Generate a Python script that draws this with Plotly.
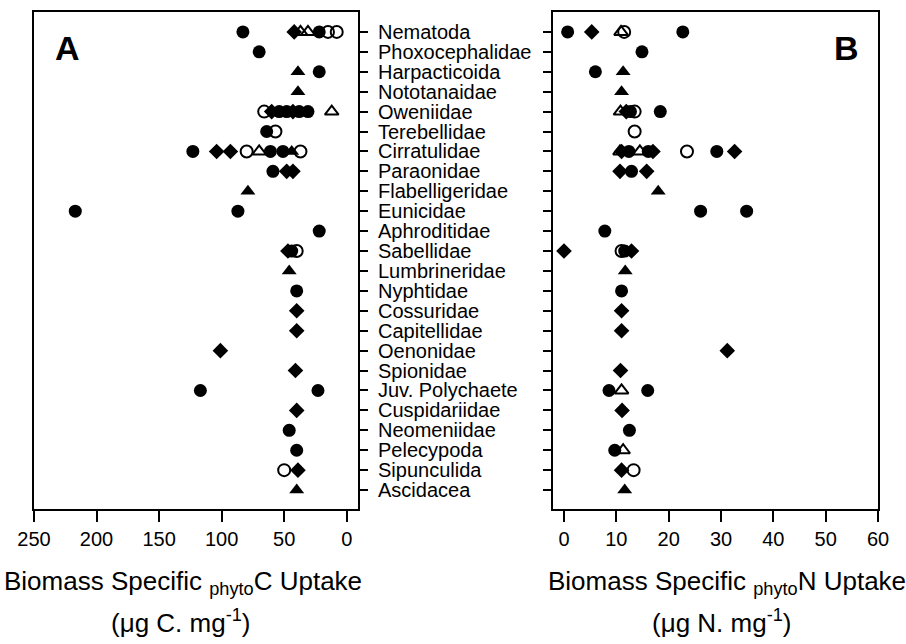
import plotly.graph_objects as go

W, H = 906, 644

taxa = ["Nematoda", "Phoxocephalidae", "Harpacticoida", "Nototanaidae", "Oweniidae",
        "Terebellidae", "Cirratulidae", "Paraonidae", "Flabelligeridae", "Eunicidae",
        "Aphroditidae", "Sabellidae", "Lumbrineridae", "Nyphtidae", "Cossuridae",
        "Capitellidae", "Oenonidae", "Spionidae", "Juv. Polychaete", "Cuspidariidae",
        "Neomeniidae", "Pelecypoda", "Sipunculida", "Ascidacea"]

c_ticks = [250, 200, 150, 100, 50, 0]
n_ticks = [0, 10, 20, 30, 40, 50, 60]

# ---- Panel A: phytoC uptake (ug C mg-1) ----
A_fc_taxa = ["Nematoda", "Nematoda", "Phoxocephalidae", "Harpacticoida", "Oweniidae", "Oweniidae",
             "Oweniidae", "Oweniidae", "Terebellidae", "Cirratulidae", "Cirratulidae", "Cirratulidae",
             "Paraonidae", "Eunicidae", "Eunicidae", "Aphroditidae", "Sabellidae", "Nyphtidae",
             "Juv. Polychaete", "Juv. Polychaete", "Neomeniidae", "Pelecypoda"]
A_fc_vals = [83, 22, 70, 22, 54, 48, 38, 31, 64, 123, 61, 51, 59, 217, 87, 22, 44, 40, 117, 23, 46, 40]

A_fd_taxa = ["Nematoda", "Oweniidae", "Oweniidae", "Cirratulidae", "Cirratulidae", "Paraonidae",
             "Paraonidae", "Sabellidae", "Cossuridae", "Capitellidae", "Oenonidae", "Spionidae",
             "Cuspidariidae", "Sipunculida"]
A_fd_vals = [42, 60, 43, 104, 93, 48, 43, 47, 40, 40, 101, 41, 40, 39]

A_ft_taxa = ["Harpacticoida", "Nototanaidae", "Cirratulidae", "Flabelligeridae", "Lumbrineridae", "Ascidacea"]
A_ft_vals = [39, 39, 44, 79, 46, 40]

A_oc_taxa = ["Nematoda", "Nematoda", "Oweniidae", "Terebellidae", "Cirratulidae", "Cirratulidae",
             "Sabellidae", "Sipunculida"]
A_oc_vals = [15, 8, 66, 57, 80, 37, 40, 50]

A_ot_taxa = ["Nematoda", "Nematoda", "Oweniidae", "Cirratulidae"]
A_ot_vals = [37, 31, 12, 70]

# ---- Panel B: phytoN uptake (ug N mg-1) ----
B_fc_taxa = ["Nematoda", "Nematoda", "Phoxocephalidae", "Harpacticoida", "Oweniidae", "Oweniidae",
             "Cirratulidae", "Cirratulidae", "Cirratulidae", "Paraonidae", "Eunicidae", "Eunicidae",
             "Aphroditidae", "Sabellidae", "Nyphtidae", "Juv. Polychaete", "Juv. Polychaete",
             "Neomeniidae", "Pelecypoda"]
B_fc_vals = [0.7, 22.7, 14.9, 6.0, 12.7, 18.4, 12.4, 16.1, 29.2, 12.9, 26.1, 34.9, 7.8, 11.6,
             11.0, 8.6, 16.0, 12.5, 9.7]

B_fd_taxa = ["Nematoda", "Oweniidae", "Cirratulidae", "Cirratulidae", "Cirratulidae", "Paraonidae",
             "Paraonidae", "Sabellidae", "Sabellidae", "Cossuridae", "Capitellidae", "Oenonidae",
             "Spionidae", "Cuspidariidae", "Sipunculida"]
B_fd_vals = [5.3, 11.9, 11.0, 17.0, 32.6, 10.7, 15.8, 0.0, 12.9, 11.0, 11.0, 31.2, 10.8, 11.1, 11.0]

B_ft_taxa = ["Harpacticoida", "Nototanaidae", "Flabelligeridae", "Lumbrineridae", "Ascidacea"]
B_ft_vals = [11.3, 11.0, 18.0, 11.7, 11.6]

B_oc_taxa = ["Nematoda", "Oweniidae", "Terebellidae", "Cirratulidae", "Sabellidae", "Sipunculida"]
B_oc_vals = [11.5, 13.5, 13.5, 23.5, 11.0, 13.3]

B_ot_taxa = ["Nematoda", "Oweniidae", "Cirratulidae", "Cirratulidae", "Juv. Polychaete", "Pelecypoda"]
B_ot_vals = [10.9, 10.8, 10.7, 14.5, 11.0, 11.3]

FONT = "Liberation Sans, Arial, sans-serif"

styles = [
    ("circle", 13, "black", 0),
    ("diamond", 12, "black", 0),
    ("triangle-up", 13, "black", 0),
    ("circle-open", 12, "black", 2),
    ("triangle-up-open", 12, "black", 2),
]

fig = go.Figure()

A_sets = [(A_fc_taxa, A_fc_vals), (A_fd_taxa, A_fd_vals), (A_ft_taxa, A_ft_vals),
          (A_oc_taxa, A_oc_vals), (A_ot_taxa, A_ot_vals)]
B_sets = [(B_fc_taxa, B_fc_vals), (B_fd_taxa, B_fd_vals), (B_ft_taxa, B_ft_vals),
          (B_oc_taxa, B_oc_vals), (B_ot_taxa, B_ot_vals)]

for (sym, size, col, lw), (t, v) in zip(styles, A_sets):
    fig.add_trace(go.Scatter(x=v, y=t, mode="markers", xaxis="x", yaxis="y",
                             marker=dict(symbol=sym, size=size, color=col,
                                         line=dict(width=lw, color=col)),
                             showlegend=False, hoverinfo="skip"))
for (sym, size, col, lw), (t, v) in zip(styles, B_sets):
    fig.add_trace(go.Scatter(x=v, y=t, mode="markers", xaxis="x2", yaxis="y2",
                             marker=dict(symbol=sym, size=size, color=col,
                                         line=dict(width=lw, color=col)),
                             showlegend=False, hoverinfo="skip"))

ytop = 1 - 12 / H
ybot = 1 - 509 / H
common_y = dict(type="category", categoryorder="array", categoryarray=taxa,
                tickmode="array", tickvals=taxa, ticktext=taxa,
                range=[23.95, -1.0], domain=[ybot, ytop], showgrid=False, zeroline=False,
                showline=True, linewidth=2, linecolor="black", mirror=True,
                ticks="outside", ticklen=8, tickwidth=2, tickcolor="black", automargin=False,
                tickfont=dict(family=FONT, size=20, color="black"))
common_x = dict(showgrid=False, zeroline=False, showline=True, linewidth=2,
                linecolor="black", mirror=True, ticks="outside", ticklen=11,
                tickwidth=2, tickcolor="black", automargin=False,
                tickfont=dict(family=FONT, size=20, color="black"))

fig.update_layout(
    width=W, height=H, margin=dict(l=0, r=0, t=0, b=0, autoexpand=False),
    paper_bgcolor="white", plot_bgcolor="white",
    xaxis=dict(domain=[34 / W, 358 / W], range=[250, -9], tickvals=c_ticks, anchor="y", **common_x),
    yaxis=dict(anchor="x", side="right", showticklabels=True, ticklabelstandoff=6, **common_y),
    xaxis2=dict(domain=[553 / W, 878 / W], range=[-2.1, 60], tickvals=n_ticks, anchor="y2", **common_x),
    yaxis2=dict(anchor="x2", side="left", showticklabels=False, **common_y),
)

ann_font = dict(family=FONT, size=26, color="black")
fig.add_annotation(text="Biomass Specific <sub>phyto</sub>C Uptake", x=183 / W, y=1 - 582 / H,
                   xref="paper", yref="paper", xanchor="center", yanchor="middle",
                   showarrow=False, font=ann_font)
fig.add_annotation(text="(μg C. mg<sup>-1</sup>)", x=181 / W, y=1 - 621 / H,
                   xref="paper", yref="paper", xanchor="center", yanchor="middle",
                   showarrow=False, font=ann_font)
fig.add_annotation(text="Biomass Specific <sub>phyto</sub>N Uptake", x=727 / W, y=1 - 582 / H,
                   xref="paper", yref="paper", xanchor="center", yanchor="middle",
                   showarrow=False, font=ann_font)
fig.add_annotation(text="(μg N. mg<sup>-1</sup>)", x=722 / W, y=1 - 621 / H,
                   xref="paper", yref="paper", xanchor="center", yanchor="middle",
                   showarrow=False, font=ann_font)
fig.add_annotation(text="<b>A</b>", x=67 / W, y=1 - 48 / H, xref="paper", yref="paper",
                   xanchor="center", yanchor="middle", showarrow=False,
                   font=dict(family=FONT, size=34, color="black"))
fig.add_annotation(text="<b>B</b>", x=846 / W, y=1 - 48 / H, xref="paper", yref="paper",
                   xanchor="center", yanchor="middle", showarrow=False,
                   font=dict(family=FONT, size=34, color="black"))

fig.write_html("out.html")
